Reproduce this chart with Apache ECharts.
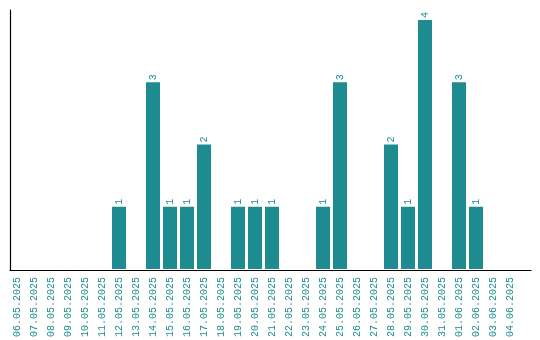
<!DOCTYPE html>
<html>
<head>
<meta charset="utf-8">
<script src="https://cdn.jsdelivr.net/npm/echarts@6/dist/echarts.min.js"></script>
<style>html,body{margin:0;padding:0;background:#fff}#c{width:540px;height:340px}</style>
</head>
<body>
<div id="c"></div>
<script>
const categories = ["06.05.2025","07.05.2025","08.05.2025","09.05.2025","10.05.2025","11.05.2025","12.05.2025","13.05.2025","14.05.2025","15.05.2025","16.05.2025","17.05.2025","18.05.2025","19.05.2025","20.05.2025","21.05.2025","22.05.2025","23.05.2025","24.05.2025","25.05.2025","26.05.2025","27.05.2025","28.05.2025","29.05.2025","30.05.2025","31.05.2025","01.06.2025","02.06.2025","03.06.2025","04.06.2025"];
const values = [0,0,0,0,0,0,1,0,3,1,1,2,0,1,1,1,0,0,1,3,0,0,2,1,4,0,3,1,0,0];

const teal = '#1e8b91';
const font = 'Liberation Mono';
const chart = echarts.init(document.getElementById('c'));
chart.setOption({
  animation: false,
  backgroundColor: '#fff',
  grid: [
    {left: 8.5, width: 510, top: 10, bottom: 70},
    {left: 10, right: 9, top: 10, bottom: 70}
  ],
  xAxis: [
    {type: 'category', gridIndex: 0, data: categories,
     axisLine: {show: false}, axisTick: {show: false},
     axisLabel: {rotate: 90, interval: 0, color: teal, fontFamily: font, fontSize: 10, margin: 8}},
    {type: 'category', gridIndex: 1, data: [''],
     axisLine: {show: true, lineStyle: {color: '#000', width: 1.2}}, axisTick: {show: false}, axisLabel: {show: false}}
  ],
  yAxis: [
    {type: 'value', gridIndex: 0, min: 0, max: 4.16, show: false},
    {type: 'value', gridIndex: 1, min: 0, max: 1,
     axisLine: {show: true, lineStyle: {color: '#000', width: 1.2}}, axisTick: {show: false},
     axisLabel: {show: false}, splitLine: {show: false}}
  ],
  series: [{
    type: 'bar', xAxisIndex: 0, yAxisIndex: 0,
    data: values.map(v => v === 0 ? null : v),
    barWidth: 14,
    itemStyle: {color: teal},
    label: {show: true, position: 'top', rotate: 90, align: 'left', verticalAlign: 'middle',
            distance: 2, color: teal, fontFamily: font, fontSize: 10}
  }]
});
</script>
</body>
</html>
